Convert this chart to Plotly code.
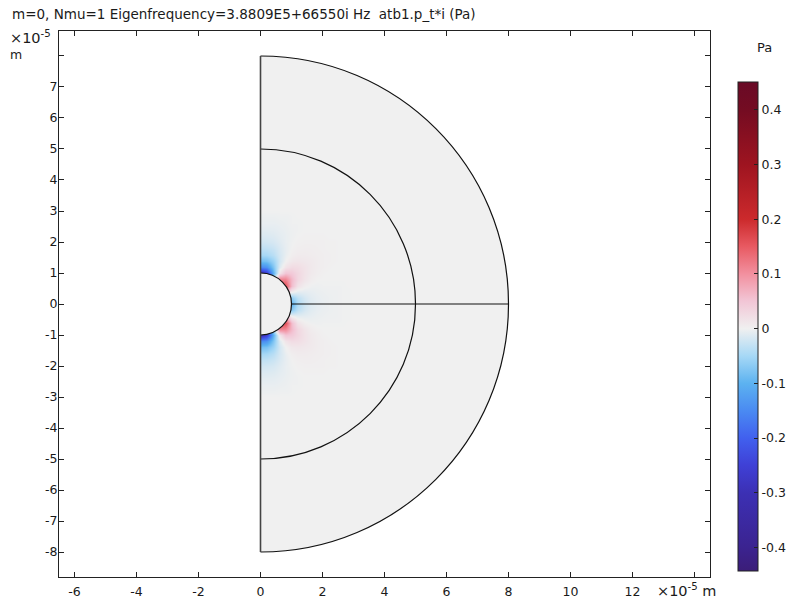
import plotly.graph_objects as go

# ---------------- data (units of 1e-5 m, pressure in Pa) ----------------
x_grid = [0.0, 0.2, 0.4, 0.6, 0.8, 1.0, 1.2, 1.4, 1.6, 1.8, 2.0, 2.2, 2.4, 2.6, 2.8, 3.0]
y_upper = [0.0, 0.2, 0.4, 0.6, 0.8, 1.0, 1.2, 1.4, 1.6, 1.8, 2.0, 2.2, 2.4, 2.6, 2.8, 3.0]

p_upper = [
    [-0.100, -0.100, -0.100, -0.100, -0.100, -0.100, -0.044, -0.022, -0.012, -0.007, -0.005, -0.003, -0.002, -0.001, -0.001, 0.0],
    [-0.300, 0.170, 0.050, -0.026, -0.056, -0.066, -0.034, -0.018, -0.010, -0.006, -0.004, -0.003, -0.002, -0.001, -0.001, 0.0],
    [-0.300, -0.044, 0.170, 0.127, 0.049, 0.000, -0.009, -0.008, -0.006, -0.004, -0.003, -0.002, -0.002, -0.001, -0.001, 0.0],
    [-0.300, -0.186, 0.062, 0.170, 0.160, 0.058, 0.016, 0.003, -0.001, -0.002, -0.001, -0.001, -0.001, -0.001, 0.000, 0.0],
    [-0.300, -0.250, -0.044, 0.110, 0.108, 0.062, 0.030, 0.014, 0.005, 0.001, 0.000, 0.000, 0.000, 0.000, 0.000, 0.0],
    [-0.300, -0.258, -0.095, 0.012, 0.050, 0.045, 0.030, 0.016, 0.008, 0.004, 0.001, 0.000, 0.000, 0.000, 0.000, 0.0],
    [-0.150, -0.138, -0.072, -0.013, 0.014, 0.024, 0.022, 0.015, 0.009, 0.005, 0.003, 0.001, 0.000, 0.000, 0.000, 0.0],
    [-0.085, -0.080, -0.055, -0.020, 0.000, 0.010, 0.012, 0.010, 0.008, 0.005, 0.003, 0.002, 0.001, 0.000, 0.000, 0.0],
    [-0.050, -0.048, -0.036, -0.018, -0.005, 0.003, 0.006, 0.006, 0.005, 0.004, 0.003, 0.002, 0.001, 0.000, 0.000, 0.0],
    [-0.032, -0.031, -0.025, -0.015, -0.006, 0.000, 0.003, 0.004, 0.004, 0.003, 0.002, 0.001, 0.001, 0.000, 0.000, 0.0],
    [-0.021, -0.020, -0.017, -0.011, -0.005, -0.001, 0.001, 0.002, 0.002, 0.002, 0.002, 0.001, 0.001, 0.000, 0.000, 0.0],
    [-0.014, -0.014, -0.012, -0.008, -0.005, -0.002, 0.000, 0.001, 0.001, 0.001, 0.001, 0.000, 0.000, 0.000, 0.000, 0.0],
    [-0.009, -0.009, -0.008, -0.006, -0.004, -0.002, -0.001, 0.000, 0.000, 0.000, 0.000, 0.000, 0.000, 0.000, 0.000, 0.0],
    [-0.005, -0.005, -0.005, -0.004, -0.003, -0.001, -0.001, 0.000, 0.000, 0.000, 0.000, 0.000, 0.000, 0.000, 0.000, 0.0],
    [-0.003, -0.003, -0.003, -0.002, -0.002, -0.001, 0.000, 0.000, 0.000, 0.000, 0.000, 0.000, 0.000, 0.000, 0.000, 0.0],
    [0.0] * 16,
]

domain_radii = [1, 5, 8]          # sphere, inner domain, outer boundary
x_ticks = [-6, -4, -2, 0, 2, 4, 6, 8, 10, 12, 14]
x_ticklabels = ["-6", "-4", "-2", "0", "2", "4", "6", "8", "10", "12", ""]
y_ticks = [-8, -7, -6, -5, -4, -3, -2, -1, 0, 1, 2, 3, 4, 5, 6, 7, 8]
y_ticklabels = ["-8", "-7", "-6", "-5", "-4", "-3", "-2", "-1", "0", "1", "2", "3", "4", "5", "6", "7", ""]
cb_ticks = [-0.4, -0.3, -0.2, -0.1, 0, 0.1, 0.2, 0.3, 0.4]
cb_ticklabels = ["-0.4", "-0.3", "-0.2", "-0.1", "0", "0.1", "0.2", "0.3", "0.4"]
z_min, z_max = -0.443, 0.451

title_text = "m=0, Nmu=1 Eigenfrequency=3.8809E5+66550i Hz  atb1.p_t*i (Pa)"

# ---------------- styling ----------------
FONT = "DejaVu Sans"
TXT = "#1a1a1a"
BG = "#f0f0f0"
wave_stops = [
    (-0.45, "#3b1d78"), (-0.4, "#3b2390"), (-0.3, "#3c30b4"), (-0.25, "#3f40d6"),
    (-0.2, "#4160ee"), (-0.15, "#4a8af2"), (-0.1, "#5cb2f0"), (-0.05, "#a6d8f6"),
    (0.0, BG), (0.05, "#f2c6d6"), (0.1, "#f2909f"), (0.15, "#e85a62"),
    (0.2, "#cc2a2c"), (0.3, "#9e1420"), (0.4, "#740c22"), (0.45, "#690a26"),
]
cs = []
for v, c in wave_stops:
    t = (v - z_min) / (z_max - z_min)
    cs.append([min(max(t, 0.0), 1.0), c])
cs[0][0] = 0.0
cs[-1][0] = 1.0

y_full = [-v for v in y_upper[:0:-1]] + y_upper
z_full = p_upper[:0:-1] + p_upper

# plot-area geometry in pixels
L, R, T, B = 59, 710, 31, 577
PW, PH = R - L, B - T


def px(xp):
    return (xp - L) / PW


def py(yp):
    return (B - yp) / PH


fig = go.Figure()
fig.add_trace(go.Heatmap(
    x=x_grid, y=y_full, z=z_full,
    zmin=z_min, zmax=z_max, colorscale=cs, zsmooth="best",
    hoverinfo="skip",
    colorbar=dict(
        xref="container", x=738 / 798, xanchor="left", xpad=0,
        yref="paper", y=py(82), yanchor="top", ypad=0,
        lenmode="pixels", len=489, thickness=20,
        outlinecolor="#222", outlinewidth=1,
        ticks="inside", ticklen=4, tickcolor="#222",
        tickvals=cb_ticks, ticktext=cb_ticklabels,
        tickfont=dict(family=FONT, size=12.5, color=TXT),
    ),
))


def half_circle(Rr, close=False):
    k = 0.5523 * Rr
    s = (f"M 0,{Rr} C {k},{Rr} {Rr},{k} {Rr},0 "
         f"C {Rr},{-k} {k},{-Rr} 0,{-Rr}")
    return s + (" Z" if close else "")


r_small, r_mid, r_big = domain_radii
ARC = dict(color="#111", width=1.2)
shapes = [
    dict(type="path", path=half_circle(r_big, True), xref="x", yref="y",
         fillcolor=BG, line=dict(width=0), layer="below"),
    dict(type="path", path=half_circle(r_big), xref="x", yref="y",
         line=ARC, layer="below"),
    dict(type="rect", x0=-0.4, x1=0, y0=-3.3, y1=3.3, xref="x", yref="y",
         fillcolor="white", line=dict(width=0), layer="above"),
    dict(type="path", path=half_circle(r_small, True), xref="x", yref="y",
         fillcolor=BG, line=dict(width=0), layer="above"),
    dict(type="path", path=half_circle(r_small), xref="x", yref="y",
         line=ARC, layer="above"),
    dict(type="path", path=half_circle(r_mid), xref="x", yref="y",
         line=ARC, layer="above"),
    dict(type="line", x0=r_small, x1=r_big, y0=0, y1=0, xref="x", yref="y",
         line=ARC, layer="above"),
    dict(type="line", x0=0, x1=0, y0=-r_big, y1=r_big, xref="x", yref="y",
         line=dict(color="#444", width=1.6), layer="above"),
]

axis_common = dict(showgrid=False, zeroline=False, showline=True, linecolor="#222",
                   linewidth=1, mirror="allticks", ticks="inside", ticklen=5,
                   tickcolor="#222", automargin=False,
                   tickfont=dict(family=FONT, size=12.5, color=TXT))

fig.update_layout(
    width=798, height=601, autosize=False,
    margin=dict(l=L, r=798 - R, t=T, b=601 - B, pad=0),
    paper_bgcolor="white", plot_bgcolor="white",
    font=dict(family=FONT, size=12, color=TXT),
    xaxis=dict(range=[-6.5, 14.5], tickvals=x_ticks, ticktext=x_ticklabels,
               ticklabelstandoff=3, **axis_common),
    yaxis=dict(range=[-8.806, 8.806], tickvals=y_ticks, ticktext=y_ticklabels,
               ticklabelstandoff=-2, **axis_common),
    shapes=shapes,
    annotations=[
        dict(text=title_text, xref="paper", yref="paper",
             x=px(10), y=py(14), xanchor="left", yanchor="middle",
             showarrow=False, font=dict(family=FONT, size=13.5, color=TXT)),
        dict(text="×10<sup>-5</sup>", xref="paper", yref="paper",
             x=px(8), y=py(37), xanchor="left", yanchor="middle",
             showarrow=False, font=dict(family=FONT, size=14.5, color=TXT)),
        dict(text="m", xref="paper", yref="paper",
             x=px(8), y=py(55), xanchor="left", yanchor="middle",
             showarrow=False, font=dict(family=FONT, size=12.5, color=TXT)),
        dict(text="×10<sup>-5</sup> m", xref="paper", yref="paper",
             x=px(655), y=py(590), xanchor="left", yanchor="middle",
             showarrow=False, font=dict(family=FONT, size=14.5, color=TXT)),
        dict(text="Pa", xref="paper", yref="paper",
             x=px(765), y=py(47), xanchor="center", yanchor="middle",
             showarrow=False, font=dict(family=FONT, size=13, color=TXT)),
    ],
)

fig.write_html(
    "out.html",
    config={"displayModeBar": False},
    post_script="document.body.style.margin='0';document.body.style.padding='0';"
                "document.body.style.overflow='hidden';",
)
